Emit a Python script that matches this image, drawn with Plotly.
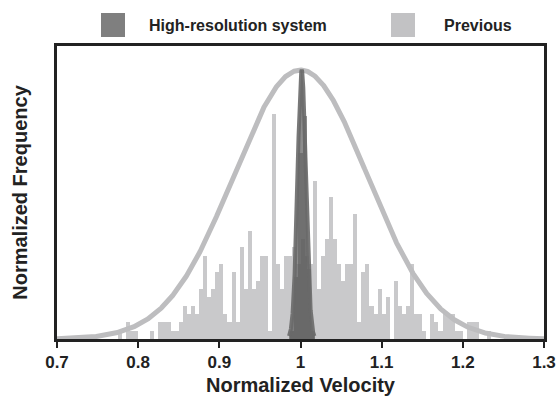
import numpy as np
import plotly.graph_objects as go

# ---- data -------------------------------------------------------------
# Previous system: histogram counts in 0.005-wide bins, first bin starts at 0.775
prev_bin_width = 0.005
prev_first_bin = 0.775
prev_counts = [
    1, 0, 2, 1, 1, 0, 0, 0, 1, 0,      # 0.775 - 0.825
    2, 2, 2, 1, 1, 2, 4, 3, 4, 3,      # 0.825 - 0.875
    6, 10, 5, 6, 8, 9, 3, 2, 8, 2,     # 0.875 - 0.925
    11, 6, 13, 6, 7, 10, 10, 1, 27, 9, # 0.925 - 0.975
    6, 10, 10, 11, 9, 12, 10, 9, 19, 6,  # 0.975 - 1.025
    10, 12, 17, 12, 9, 7, 9, 9, 15, 2,   # 1.025 - 1.075
    8, 9, 4, 3, 6, 3, 5, 0, 7, 4,      # 1.075 - 1.125
    3, 4, 9, 3, 3, 1, 0, 3, 2, 1,      # 1.125 - 1.175
    3, 3, 3, 1, 1, 0, 2, 2, 2, 0,      # 1.175 - 1.225
    0, 1,                               # 1.225 - 1.235
]
prev_fit_peak_count = 32.3          # counts at the peak of the fitted curve
prev_fit_mean, prev_fit_sigma = 1.0, 0.0825

# High-resolution system: normalized histogram and fitted curve
hr_bin_width = 0.005
hr_bin_centers = [0.990, 0.995, 1.000, 1.005, 1.010, 1.015]
hr_values = [0.03, 0.23, 0.69, 0.83, 0.26, 0.03]
hr_fit_mean, hr_fit_sigma = 1.0015, 0.0052

x_tick_vals = [0.7, 0.8, 0.9, 1.0, 1.1, 1.2, 1.3]
x_tick_text = ["0.7", "0.8", "0.9", "1", "1.1", "1.2", "1.3"]

# ---- derived ----------------------------------------------------------
prev_centers = prev_first_bin + prev_bin_width * (np.arange(len(prev_counts)) + 0.5)
prev_norm = np.array(prev_counts) / prev_fit_peak_count

xs = np.linspace(0.7, 1.3, 1201)
prev_fit = np.exp(-0.5 * ((xs - prev_fit_mean) / prev_fit_sigma) ** 2)
xs_hr = np.linspace(hr_fit_mean - 3 * hr_fit_sigma, hr_fit_mean + 3 * hr_fit_sigma, 301)
hr_fit = np.exp(-0.5 * ((xs_hr - hr_fit_mean) / hr_fit_sigma) ** 2)

LIGHT_BAR = "#c9c9cb"
LIGHT_LINE = "#bdbdbf"
DARK = "#7f7f7f"
FONT = "Liberation Sans, Arial, sans-serif"
INK = "#222222"

fig = go.Figure()
fig.add_trace(go.Bar(
    x=prev_centers, y=prev_norm, width=prev_bin_width,
    marker=dict(color=LIGHT_BAR, line=dict(width=0)),
    showlegend=False, name="Previous",
))
fig.add_trace(go.Scatter(
    x=xs, y=prev_fit, mode="lines",
    line=dict(color=LIGHT_LINE, width=5),
    showlegend=False, hoverinfo="skip",
))
fig.add_trace(go.Bar(
    x=hr_bin_centers, y=hr_values, width=hr_bin_width,
    marker=dict(color="rgba(70,70,70,0.55)", line=dict(width=0)),
    showlegend=False, name="High-resolution system",
))
fig.add_trace(go.Scatter(
    x=xs_hr, y=hr_fit, mode="lines", fill="tozeroy",
    fillcolor="rgba(95,95,95,0.72)",
    line=dict(color="rgba(105,105,105,0.9)", width=4),
    showlegend=False, hoverinfo="skip",
))

# Legend drawn as swatches plus labels above the plot area
L, R, T, B = 57, 16, 46, 62
W, H = 560, 401
pw, ph = W - L - R, H - T - B


def px_x(p):
    return (p - L) / pw


def px_y(p):
    return (H - B - p) / ph


for x0, color, label, tx in [(101, DARK, "High-resolution system", 147),
                             (391, "#c2c2c4", "Previous", 442)]:
    fig.add_shape(type="rect", xref="paper", yref="paper",
                  x0=px_x(x0), x1=px_x(x0 + 24), y0=px_y(37), y1=px_y(13),
                  fillcolor=color, line=dict(width=0))
    fig.add_annotation(xref="paper", yref="paper", x=px_x(tx), y=px_y(25.5),
                       text=label, showarrow=False, xanchor="left", yanchor="middle",
                       font=dict(family=FONT, size=16, color=INK, weight="bold"))

fig.update_layout(
    width=W, height=H,
    margin=dict(l=L, r=R, t=T, b=B, autoexpand=False),
    paper_bgcolor="white", plot_bgcolor="white",
    bargap=0, barmode="overlay",
    xaxis=dict(
        range=[0.7, 1.3], tickvals=x_tick_vals, ticktext=x_tick_text,
        showline=True, linecolor=INK, linewidth=3, mirror=True,
        ticks="outside", ticklen=6, tickwidth=2, tickcolor=INK,
        showgrid=False, zeroline=False, automargin=False,
        tickfont=dict(family=FONT, size=17, color=INK, weight="bold"),
        title=dict(text="Normalized Velocity", standoff=7,
                   font=dict(family=FONT, size=20, color=INK, weight="bold")),
    ),
    yaxis=dict(
        range=[0, 1.089], showticklabels=False, ticks="",
        showline=True, linecolor=INK, linewidth=3, mirror=True,
        showgrid=False, zeroline=False, automargin=False,
        title=dict(text="Normalized Frequency", standoff=22,
                   font=dict(family=FONT, size=20, color=INK, weight="bold")),
    ),
)

fig.write_html("out.html")
